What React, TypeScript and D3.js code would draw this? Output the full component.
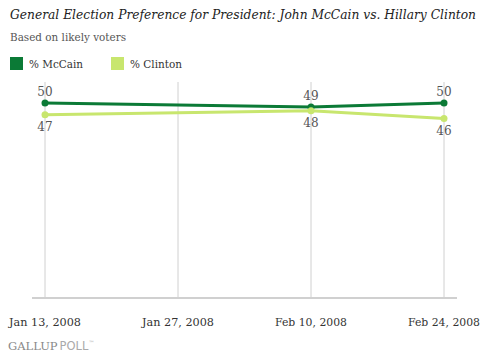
import React from "react";
import * as d3 from "d3";

const dates = ["2008-01-13", "2008-02-10", "2008-02-24"];
const mccain = [50, 49, 50];
const clinton = [47, 48, 46];
const tickDates = ["2008-01-13", "2008-01-27", "2008-02-10", "2008-02-24"];
const tickLabels = ["Jan 13, 2008", "Jan 27, 2008", "Feb 10, 2008", "Feb 24, 2008"];
const seriesNames = ["% McCain", "% Clinton"];
const colors = ["#0b7a36", "#c8e66e"];

const W = 489;
const H = 358;
const parse = d3.timeParse("%Y-%m-%d");
const serif = "DejaVu Serif";

export default function App() {
  const x = d3.scaleTime()
    .domain([parse(tickDates[0])!, parse(tickDates[3])!])
    .range([45, 444]);
  const y = d3.scaleLinear().domain([0, 60]).range([298, 64]);
  const line = d3.line<[Date, number]>()
    .x((d) => x(d[0]))
    .y((d) => y(d[1]));
  const series = [mccain, clinton].map((vals) =>
    vals.map((v, i) => [parse(dates[i])!, v] as [Date, number])
  );

  return (
    <svg width={W} height={H} style={{ position: "absolute", left: 0, top: 0 }}>
      <rect width={W} height={H} fill="#fff" />
      <text x={10} y={19} fontFamily={serif} fontStyle="italic" fontSize={12.5} fill="#222"
        textLength={466} lengthAdjust="spacingAndGlyphs">
        General Election Preference for President: John McCain vs. Hillary Clinton
      </text>
      <text x={10} y={41} fontFamily={serif} fontSize={11} fill="#555"
        textLength={116} lengthAdjust="spacingAndGlyphs">
        Based on likely voters
      </text>
      {seriesNames.map((n, i) => (
        <g key={n} transform={`translate(${10 + i * 101},57)`}>
          <rect width={13} height={13} fill={colors[i]} />
          <text x={19} y={11} fontFamily={serif} fontSize={11.5} fill="#333"
            textLength={i === 0 ? 54 : 52} lengthAdjust="spacingAndGlyphs">{n}</text>
        </g>
      ))}
      {tickDates.map((t) => (
        <line key={t} x1={x(parse(t)!)} x2={x(parse(t)!)} y1={82} y2={298} stroke="#d0d0d0" strokeWidth={1} />
      ))}
      <line x1={32} x2={457} y1={298} y2={298} stroke="#d0d0d0" strokeWidth={2} />
      {tickDates.map((t, i) => (
        <text key={t} x={x(parse(t)!)} y={326} textAnchor="middle" fontFamily={serif}
          fontSize={11.5} fill="#333" textLength={72} lengthAdjust="spacingAndGlyphs">{tickLabels[i]}</text>
      ))}
      {series.map((s, i) => (
        <g key={i}>
          <path d={line(s)!} fill="none" stroke={colors[i]} strokeWidth={3} />
          {s.map((d, j) => (
            <circle key={j} cx={x(d[0])} cy={y(d[1])} r={3.5} fill={colors[i]} />
          ))}
          {s.map((d, j) => (
            <text key={"t" + j} x={x(d[0])} y={i === 0 ? y(d[1]) - 7 : y(d[1]) + 16} textAnchor="middle"
              fontFamily={serif} fontSize={12} fill="#555">{d[1]}</text>
          ))}
        </g>
      ))}
      <text x={8} y={350} fontSize={11.5} fill="#888">
        <tspan fontFamily={serif}>GALLUP</tspan>
        <tspan fontFamily="DejaVu Sans" fill="#aaa" dx={2}>POLL</tspan>
        <tspan fontFamily="DejaVu Sans" fill="#aaa" fontSize={6} dy={-5}>™</tspan>
      </text>
    </svg>
  );
}
